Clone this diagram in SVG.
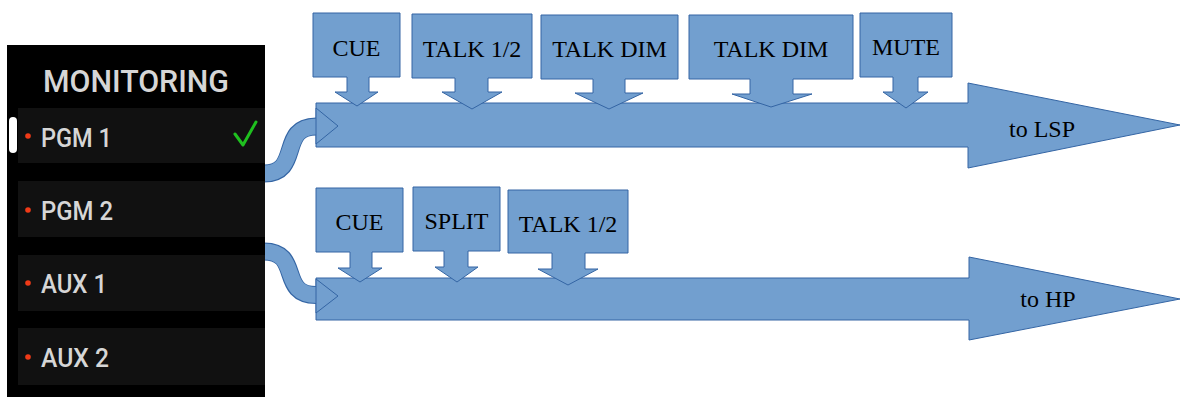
<svg xmlns="http://www.w3.org/2000/svg" width="1182" height="397" viewBox="0 0 1182 397">
<style>
.blue{fill:#729fcf;stroke:#3465a4;stroke-width:1}
.lbl{font-family:"Liberation Serif","Times New Roman",serif;font-size:24px;fill:#000;text-anchor:middle}
.ptxt{font-family:Roboto,"Liberation Sans",Arial,sans-serif;font-weight:500;fill:#d6d6d6}
.row{fill:#111111}
.dot{fill:#f03a17}
.bandO{fill:none;stroke:#3465a4;stroke-width:18}
.bandI{fill:none;stroke:#729fcf;stroke-width:16}
</style>
<rect width="1182" height="397" fill="#ffffff"/>
<g id="lsp-bus">
<polygon class="blue" points="316,103 968,103 968,83 1180,125 968,168 968,147 316,147"/>
<text class="lbl" x="1042" y="137">to LSP</text>
</g>
<g id="hp-bus">
<polygon class="blue" points="316,278 969,278 969,257 1180,299 969,340 969,320 316,320"/>
<text class="lbl" x="1048" y="307">to HP</text>
</g>
<g id="lsp-cue">
<polygon class="blue" points="313,13 400,13 400,77 369,77 369,92 378,92 357,106 335,92 347,92 347,77 313,77"/>
<text class="lbl" x="356.5" y="56">CUE</text>
</g>
<g id="lsp-talk12">
<polygon class="blue" points="412,14 532,14 532,78 488,78 488,92 502,92 472,109 442,92 455,92 455,78 412,78"/>
<text class="lbl" x="472" y="57">TALK 1/2</text>
</g>
<g id="lsp-talkdim1">
<polygon class="blue" points="541,15 678,15 678,79 625,79 625,93 643,93 609,109 575,93 593,93 593,79 541,79"/>
<text class="lbl" x="609.5" y="57">TALK DIM</text>
</g>
<g id="lsp-talkdim2">
<polygon class="blue" points="689,15 853,15 853,79 793,79 793,94 812,94 771,107 732,94 750,94 750,79 689,79"/>
<text class="lbl" x="771" y="57">TALK DIM</text>
</g>
<g id="lsp-mute">
<polygon class="blue" points="860,13 952,13 952,77 918,77 918,92 928,92 906,108 883,92 893,92 893,77 860,77"/>
<text class="lbl" x="906" y="55">MUTE</text>
</g>
<g id="hp-cue">
<polygon class="blue" points="316,188 403,188 403,252 372,252 372,268 382,268 360,282 338,268 350,268 350,252 316,252"/>
<text class="lbl" x="359.5" y="230">CUE</text>
</g>
<g id="hp-split">
<polygon class="blue" points="413,187 500,187 500,251 468,251 468,267 478,267 457,282 435,267 444,267 444,251 413,251"/>
<text class="lbl" x="456.5" y="229">SPLIT</text>
</g>
<g id="hp-talk12">
<polygon class="blue" points="508,190 628,190 628,253 585,253 585,269 598,269 568,285 538,269 552,269 552,253 508,253"/>
<text class="lbl" x="568" y="232">TALK 1/2</text>
</g>
<g id="connectors">
<path class="bandO" d="M264,173.5 C302,173.5 278,126.5 316,126.5"/>
<path class="bandI" d="M263,173.5 C302,173.5 278,126.5 317,126.5"/>
<polygon class="blue" points="316,108 338,126 316,144"/>
<path class="bandO" d="M264,251.5 C302,251.5 278,295 316,295"/>
<path class="bandI" d="M263,251.5 C302,251.5 278,295 317,295"/>
<polygon class="blue" points="316,279 338,296 316,313"/>
</g>
<g id="monitoring-panel">
<rect x="7" y="45" width="258" height="352" fill="#000000"/>
<text class="ptxt" x="43" y="92" font-size="32" textLength="186" lengthAdjust="spacingAndGlyphs" fill="#dedede">MONITORING</text>
<g id="row-pgm1">
<rect class="row" x="18" y="108" width="247" height="55"/>
<rect x="9" y="117" width="8" height="36" rx="4" fill="#ffffff"/>
<circle class="dot" cx="28" cy="136" r="2.8"/>
<text class="ptxt" x="41" y="147" font-size="26" textLength="71" lengthAdjust="spacingAndGlyphs">PGM 1</text>
<polyline points="235,134 243,145 256,122" fill="none" stroke="#1fc01f" stroke-width="3" stroke-linecap="round" stroke-linejoin="round"/>
</g>
<g id="row-pgm2">
<rect class="row" x="18" y="181" width="247" height="56"/>
<circle class="dot" cx="28" cy="210" r="2.8"/>
<text class="ptxt" x="41" y="220" font-size="26" textLength="72" lengthAdjust="spacingAndGlyphs">PGM 2</text>
</g>
<g id="row-aux1">
<rect class="row" x="18" y="255" width="247" height="56"/>
<circle class="dot" cx="28" cy="283" r="2.8"/>
<text class="ptxt" x="41" y="293" font-size="26" textLength="66" lengthAdjust="spacingAndGlyphs">AUX 1</text>
</g>
<g id="row-aux2">
<rect class="row" x="18" y="328" width="247" height="57"/>
<circle class="dot" cx="28" cy="357" r="2.8"/>
<text class="ptxt" x="41" y="367" font-size="26" textLength="68" lengthAdjust="spacingAndGlyphs">AUX 2</text>
</g>
</g>
</svg>
